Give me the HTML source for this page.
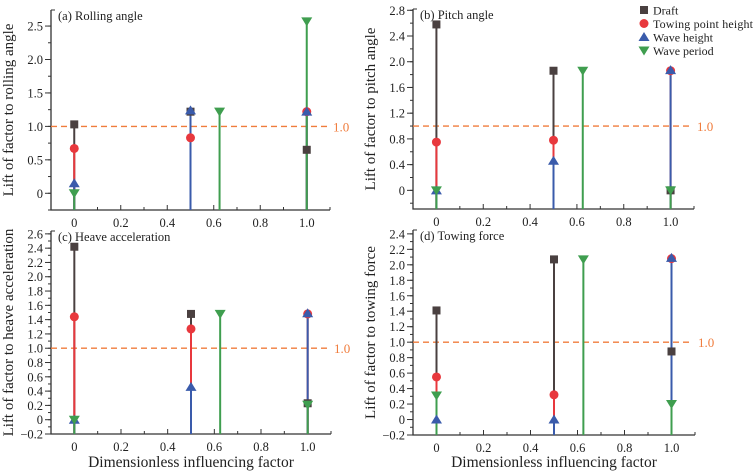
<!DOCTYPE html>
<html><head><meta charset="utf-8"><style>
body{margin:0;background:#fff;}
svg{display:block;}
svg text{font-family:"Liberation Serif","DejaVu Serif","Times New Roman",serif;}
</style></head><body>
<svg id="c" width="756" height="472" xmlns="http://www.w3.org/2000/svg"></svg>
<script>
const xTicks=[0,0.2,0.4,0.6,0.8,1.0];
const xTickLabels=["0","0.2","0.4","0.6","0.8","1.0"];
const xMain=[0,0.5,1.0];
const xPeriod=[0,0.625,1.0];
const seriesNames=["Draft","Towing point height","Wave height","Wave period"];
const seriesColors=["#4a4040","#e8383d","#3a5bab","#3f9e4f"];
// panel a
const aDraft=[1.03,1.22,0.65], aTow=[0.67,0.83,1.22], aWaveH=[0.15,1.24,1.22], aWaveP=[0,1.22,2.57];
const aTicks=[0,0.5,1.0,1.5,2.0,2.5], aTickLabels=["0","0.5","1.0","1.5","2.0","2.5"];
// panel b
const bDraft=[2.58,1.86,0], bTow=[0.75,0.78,1.86], bWaveH=[0,0.46,1.87], bWaveP=[0,1.86,0];
const bTicks=[0,0.4,0.8,1.2,1.6,2.0,2.4,2.8], bTickLabels=["0","0.4","0.8","1.2","1.6","2.0","2.4","2.8"];
// panel c
const cDraft=[2.42,1.48,0.23], cTow=[1.44,1.27,1.48], cWaveH=[0,0.46,1.49], cWaveP=[0,1.48,0.21];
const cTicks=[-0.2,0,0.2,0.4,0.6,0.8,1.0,1.2,1.4,1.6,1.8,2.0,2.2,2.4,2.6], cTickLabels=["\u22120.2","0","0.2","0.4","0.6","0.8","1.0","1.2","1.4","1.6","1.8","2.0","2.2","2.4","2.6"];
// panel d
const dDraft=[1.41,2.07,0.88], dTow=[0.55,0.32,2.08], dWaveH=[0,0,2.09], dWaveP=[0.31,2.07,0.2];
const dTicks=[-0.2,0,0.2,0.4,0.6,0.8,1.0,1.2,1.4,1.6,1.8,2.0,2.2,2.4], dTickLabels=["\u22120.2","0","0.2","0.4","0.6","0.8","1.0","1.2","1.4","1.6","1.8","2.0","2.2","2.4"];
const refValue=1.0;

const NS="http://www.w3.org/2000/svg";
const svg=document.getElementById('c');
function mk(tag,attrs,parent){const e=document.createElementNS(NS,tag);for(const k in attrs)e.setAttribute(k,attrs[k]);(parent||svg).appendChild(e);return e;}

const panels=[
 {id:'a',title:'(a) Rolling angle',ylab:'Lift of factor to rolling angle',L:51,R:330,T:10,B:210,ymin:-0.25,ymax:2.74,data:[aDraft,aTow,aWaveH,aWaveP],ticks:aTicks,labels:aTickLabels,minor:0.25,xtitle:false},
 {id:'b',title:'(b) Pitch angle',ylab:'Lift of factor to pitch angle',L:413,R:694,T:9,B:209,ymin:-0.29,ymax:2.82,data:[bDraft,bTow,bWaveH,bWaveP],ticks:bTicks,labels:bTickLabels,minor:0.2,xtitle:false},
 {id:'c',title:'(c) Heave acceleration',ylab:'Lift of factor to heave acceleration',L:51,R:331,T:231,B:434,ymin:-0.2,ymax:2.64,data:[cDraft,cTow,cWaveH,cWaveP],ticks:cTicks,labels:cTickLabels,minor:0.1,xtitle:true},
 {id:'d',title:'(d) Towing force',ylab:'Lift of factor to towing force',L:413,R:695,T:230,B:435,ymin:-0.2,ymax:2.45,data:[dDraft,dTow,dWaveH,dWaveP],ticks:dTicks,labels:dTickLabels,minor:0.1,xtitle:true}
];

function marker(g,k,cx,cy){
  const col=seriesColors[k];let m;
  if(k===0)m=mk('rect',{x:cx-4,y:cy-4,width:8,height:8,fill:col},g);
  else if(k===1)m=mk('circle',{cx:cx,cy:cy,r:4.5,fill:col},g);
  else if(k===2)m=mk('polygon',{points:`${cx},${cy-5} ${cx-5.5},${cy+4} ${cx+5.5},${cy+4}`,fill:col},g);
  else m=mk('polygon',{points:`${cx},${cy+5} ${cx-5.5},${cy-4} ${cx+5.5},${cy-4}`,fill:col},g);
  return m;
}

panels.forEach(p=>{
  const g=mk('g',{});
  
  
  const xs=v=>p.L+(v+0.1)/1.2*(p.R-p.L);
  const ys=v=>p.B-(v-p.ymin)/(p.ymax-p.ymin)*(p.B-p.T);
  const ax=mk('path',{d:`M${p.L},${p.T} L${p.L},${p.B} L${p.R},${p.B}`,stroke:'#333',fill:'none','stroke-width':1.3},g);
  
  
  mk('line',{x1:p.L,y1:p.T,x2:p.L+4,y2:p.T,stroke:'#333','stroke-width':1},g);
  for(let v=-0.1;v<=1.101;v+=0.1){const X=xs(v);const major=Math.abs(Math.round(v*5)-v*5)<1e-6&&v>-0.05;mk('line',{x1:X,y1:p.B,x2:X,y2:p.B-(major?5:3),stroke:'#333','stroke-width':1},g);}
  xTicks.forEach((v,i)=>{const t=mk('text',{x:xs(v),y:p.B+17,'text-anchor':'middle','font-size':12.5,fill:'#222'},g);t.textContent=xTickLabels[i];
    
    });
  for(let v=Math.ceil(p.ymin/p.minor)*p.minor;v<=p.ymax+1e-6;v+=p.minor){mk('line',{x1:p.L,y1:ys(v),x2:p.L-3,y2:ys(v),stroke:'#333','stroke-width':1},g);}
  p.ticks.forEach((v,i)=>{mk('line',{x1:p.L,y1:ys(v),x2:p.L-6,y2:ys(v),stroke:'#333','stroke-width':1},g);
    const t=mk('text',{x:p.L-8,y:ys(v)+4.5,'text-anchor':'end','font-size':12.5,fill:'#222'},g);t.textContent=p.labels[i];
    
    });
  const tt=mk('text',{x:p.L+7,y:p.T+10,'font-size':12.5,fill:'#222'},g);tt.textContent=p.title;
  
  
  const cy=(p.T+p.B)/2;
  const yl=mk('text',{x:p.L-38,y:cy,'text-anchor':'middle','font-size':15,fill:'#222',transform:`rotate(-90 ${p.L-38} ${cy})`},g);
  yl.textContent=p.ylab;
  
  
  if(p.xtitle){const xt=mk('text',{x:(p.L+p.R)/2,y:467,'text-anchor':'middle','font-size':15.5,fill:'#222'},g);xt.textContent='Dimensionless influencing factor';
    
    }
  const rl=mk('line',{x1:p.L,y1:ys(refValue),x2:p.R-2,y2:ys(refValue),stroke:'#f07c3c','stroke-width':1.4,'stroke-dasharray':'6,4'},g);
  
  
  const rt=mk('text',{x:p.R+3,y:ys(refValue)+5,'font-size':13,fill:'#f07c3c'},g);rt.textContent='1.0';
  
  
  p.data.forEach((arr,k)=>{const xa=k===3?xPeriod:xMain;arr.forEach((v,i)=>{
    const s=mk('line',{x1:xs(xa[i]),y1:p.B,x2:xs(xa[i]),y2:ys(v),stroke:seriesColors[k],'stroke-width':2},g);
    
    });});
  p.data.forEach((arr,k)=>{const xa=k===3?xPeriod:xMain;arr.forEach((v,i)=>{
    const m=marker(g,k,xs(xa[i]),ys(v));
    
    });});
});
const lg=mk('g',{});


seriesNames.forEach((n,k)=>{const y=10+k*13.5;
  const m=marker(lg,k,644,y);
  
  
  const t=mk('text',{x:653,y:y+4.5,'font-size':12,fill:'#222',textLength:n.length>12?100:null},lg);
  if(n.length<=12)t.removeAttribute('textLength');
  t.textContent=n;
  
  });
</script>
</body></html>
